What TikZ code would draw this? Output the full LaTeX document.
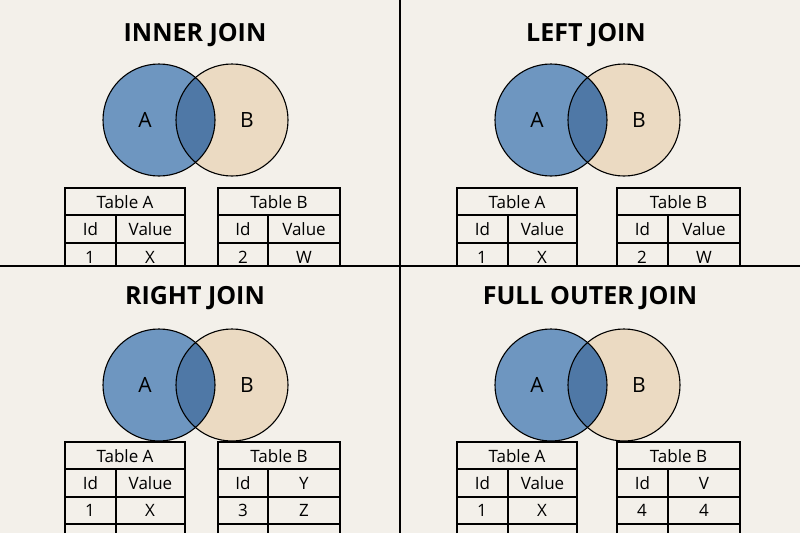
\documentclass[tikz,border=0pt]{standalone}
\usepackage{fontspec}
\setmainfont{Open Sans}
\definecolor{bg}{HTML}{F3F0EA}
\definecolor{ca}{HTML}{6E96C0}
\definecolor{cb}{HTML}{EBDAC2}
\definecolor{cab}{HTML}{4F78A6}
\tikzset{ttl/.style={font=\bfseries\fontsize{25}{27}\selectfont},
 lbl/.style={font=\fontsize{21}{23}\selectfont},
 tx/.style={font=\fontsize{17}{19}\selectfont},
 txb/.style={font=\fontsize{17}{19}\selectfont},
 ln/.style={line width=1.1pt,black}}
% #1 name, #2 x0, #3 xs, #4 x1, #5 ytop, #6 bottom, #7 title, #8 c2, #9 row
\newcommand\jtab[9]{%
 \draw[ln] (#2,#6) -- (#2,#5) -- (#4,#5) -- (#4,#6);
 \draw[ln] (#2,#5+27) -- (#4,#5+27);
 \draw[ln] (#2,#5+55) -- (#4,#5+55);
 \ifdim #6pt>400pt \draw[ln] (#2,#5+82) -- (#4,#5+82);\fi
 \draw[ln] (#3,#5+27) -- (#3,#6);
 \node[txb] (#1t) at ({(#2+#4)/2},#5+14) {#7};
 \node[tx] (#1i) at ({(#2+#3)/2},#5+41) {Id};
 \node[tx] (#1v) at ({(#3+#4)/2},#5+41) {#8};
 #9}
\newcommand\venn[3]{% name cx cy
 \fill[ca] (#2,#3) circle[radius=56pt];
 \fill[cb] (#2+73,#3) circle[radius=56pt];
 \begin{scope}\clip (#2,#3) circle[radius=56pt];
 \fill[cab] (#2+73,#3) circle[radius=56pt];\end{scope}
 \draw[ln] (#2,#3) circle[radius=56pt];
 \draw[ln] (#2+73,#3) circle[radius=56pt];
 \node[lbl] (#1a) at (#2-14,#3) {A};
 \node[lbl] (#1b) at (#2+88,#3) {B};}
\begin{document}
\begin{tikzpicture}[x=1pt,y=-1pt]
\fill[bg] (0,0) rectangle (800,533);
\useasboundingbox (0,0) rectangle (800,533);
\node[ttl] (t1) at (195,35) {INNER JOIN};
\node[ttl] (t2) at (586,35) {LEFT JOIN};
\node[ttl] (t3) at (195,298) {RIGHT JOIN};
\node[ttl] (t4) at (590,298) {FULL OUTER JOIN};
\venn{v1}{159}{120}
\venn{v2}{551}{120}
\venn{v3}{159}{385}
\venn{v4}{551}{385}
\jtab{a1}{65}{116}{185}{188}{266}{Table A}{Value}{\node[tx] (a1r) at (90,257) {1}; \node[tx] (a1s) at (150,257) {X};}
\jtab{b1}{218}{268}{340}{188}{266}{Table B}{Value}{\node[tx] (b1r) at (243,257) {2}; \node[tx] (b1s) at (304,257) {W};}
\jtab{a2}{457}{508}{577}{188}{266}{Table A}{Value}{\node[tx] (a2r) at (482,257) {1}; \node[tx] (a2s) at (542,257) {X};}
\jtab{b2}{617}{668}{740}{188}{266}{Table B}{Value}{\node[tx] (b2r) at (642,257) {2}; \node[tx] (b2s) at (704,257) {W};}
\jtab{a3}{65}{116}{185}{442}{533}{Table A}{Value}{\node[tx] (a3r) at (90,510) {1}; \node[tx] (a3s) at (150,510) {X};}
\jtab{b3}{218}{268}{340}{442}{533}{Table B}{Y}{\node[tx] (b3r) at (243,510) {3}; \node[tx] (b3s) at (304,510) {Z};}
\jtab{a4}{457}{508}{577}{442}{533}{Table A}{Value}{\node[tx] (a4r) at (482,510) {1}; \node[tx] (a4s) at (542,510) {X};}
\jtab{b4}{617}{668}{740}{442}{533}{Table B}{V}{\node[tx] (b4r) at (642,510) {4}; \node[tx] (b4s) at (704,510) {4};}
\draw[line width=1.6pt] (400,0) -- (400,533);
\draw[line width=1.6pt] (0,266) -- (800,266);
\end{tikzpicture}
\end{document}
